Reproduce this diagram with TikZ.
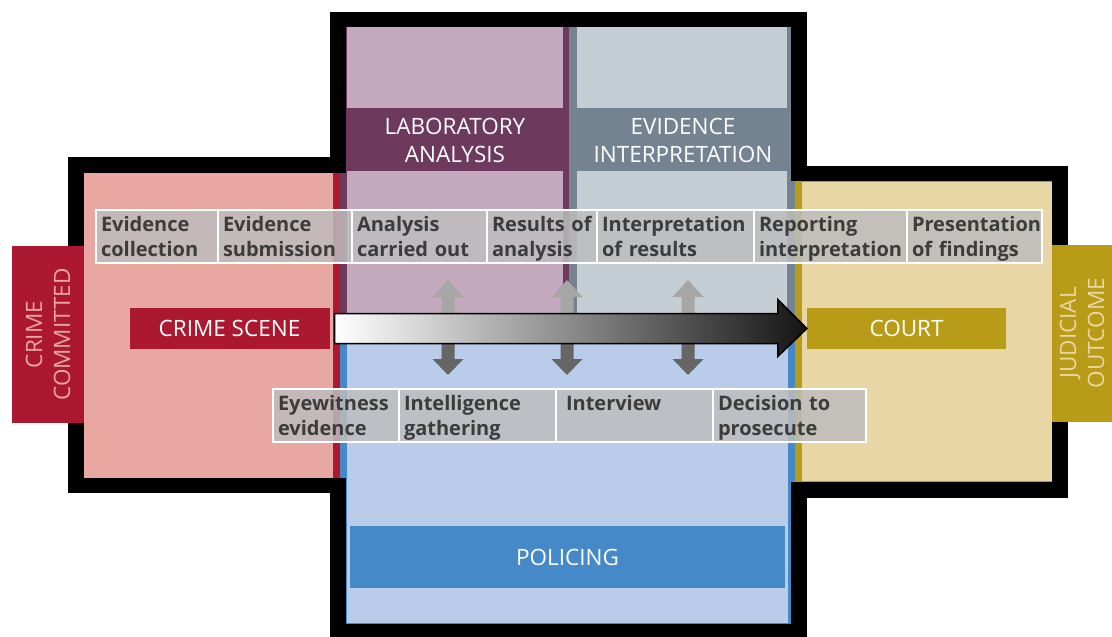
\documentclass[tikz,border=0pt]{standalone}
\usepackage{fontspec}
\setmainfont{Open Sans}
\usepackage{tikz}
\usetikzlibrary{positioning}
\usetikzlibrary{calc}

\definecolor{crimefill}{HTML}{E8A7A1}
\definecolor{crimered}{HTML}{AC1830}
\definecolor{labfill}{HTML}{C4A9BE}
\definecolor{labdark}{HTML}{6D3A5E}
\definecolor{interpfill}{HTML}{C5CDD5}
\definecolor{interpdark}{HTML}{748391}
\definecolor{policefill}{HTML}{B9CDEB}
\definecolor{policeblue}{HTML}{4589C9}
\definecolor{courtfill}{HTML}{E8D7A5}
\definecolor{courtgold}{HTML}{B89C18}
\definecolor{stagegrey}{HTML}{BDBDBD}
\definecolor{stagetext}{HTML}{3C3C3C}

\begin{document}
\begin{tikzpicture}[x=1pt, y=-1pt, line join=miter,
  stage/.style={draw=white, line width=1.5pt, fill=stagegrey, fill opacity=0.85, text opacity=1,
    text=stagetext, font=\fontsize{20}{25}\selectfont\bfseries, align=left, anchor=north west,
    inner xsep=5pt, inner ysep=1.5pt, minimum height=53pt, outer sep=0pt, text width=#1,
    execute at begin node=\rule{0pt}{19.5pt}, execute at end node=\rule[-5.5pt]{0pt}{0pt}},
  caps/.style={text=white, font=\fontsize{22.5}{28}\selectfont, align=center, inner sep=0pt},
  tab/.style={caps, rotate=90, minimum width=177pt, minimum height=72pt},
  flow/.style={draw=black, line width=1.5pt, left color=white, right color=black!92},
  linkup/.style={fill=black!35},
  linkdown/.style={fill=black!60}]

\useasboundingbox (0,0) rectangle (1112,637);

% crime scene area
\fill[crimefill] (76,165) rectangle (340,486);
\fill[crimered] (333,165) rectangle (340,486); % red edge

% laboratory column
\fill[labdark] (340,19) rectangle (569,330);
\fill[labfill] (347,27) rectangle (563,108);
\fill[labfill] (347,171) rectangle (563,330);

% interpretation column
\fill[interpdark] (569,19) rectangle (795,330);
\fill[interpfill] (577,27) rectangle (787,108);
\fill[interpfill] (577,171) rectangle (787,330);

% policing area
\fill[policeblue] (340,328) rectangle (795,640);
\fill[policefill] (347,328) rectangle (788,623);

% court area
\fill[courtgold] (795,173) rectangle (1060,490);
\fill[courtfill] (802,182) rectangle (1053,481);

% black outline (centre line of the frame)
\draw[black, line width=15.5pt] (76,165) -- (338,165) -- (338,19.5) -- (799,19.5) -- (799,173.5)
  -- (1060,173.5) -- (1060,490) -- (799,490) -- (799,632) -- (338,632) -- (338,485.5)
  -- (76,485.5) -- cycle;

% side tabs
\node[tab, fill=crimered, text=crimefill] (committed) at (48,334.5) {CRIME\\COMMITTED};
\node[tab, fill=courtgold, text=courtfill, minimum height=60pt] (outcome) at (1082,333) {JUDICIAL\\OUTCOME};

% column headings
\node[caps] (lab) at (455,140) {LABORATORY\\ANALYSIS};
\node[caps] (interp) at (683,140) {EVIDENCE\\INTERPRETATION};

% stage labels
\node[caps, fill=crimered, minimum width=200pt, minimum height=41pt] (scene) at (229.5,328.5) {CRIME SCENE};
\node[caps, fill=courtgold, minimum width=199pt, minimum height=41pt] (court) at (906.5,328.5) {COURT};
\node[caps, fill=policeblue, minimum width=435pt, minimum height=62pt] (police) at (567.5,557) {POLICING};

% two-way links between columns and policing
\foreach \x in {448,567,688} {
  \fill[linkup] ({\x-6.5},328) -- ({\x-6.5},297) -- ({\x-15.5},297) -- (\x,280)
    -- ({\x+15.5},297) -- ({\x+6.5},297) -- ({\x+6.5},328) -- cycle;
  \fill[linkdown] ({\x-6.5},328) -- ({\x-6.5},359) -- ({\x-15.5},359) -- (\x,375)
    -- ({\x+15.5},359) -- ({\x+6.5},359) -- ({\x+6.5},328) -- cycle;
}

% main flow arrow from crime scene to court
\coordinate (flowS) at ([xshift=5pt]scene.east);
\coordinate (flowE) at (court.west);
\draw[flow] ($(flowS)+(0,-15)$) -- ($(flowE)+(-29,-15)$) -- ($(flowE)+(-29,-29)$) -- (flowE)
  -- ($(flowE)+(-29,28)$) -- ($(flowE)+(-29,15)$) -- ($(flowS)+(0,15)$) -- cycle;

% upper row of stages
\node[stage=112pt] (collect) at (96,210) {Evidence\\collection};
\node[stage=124pt, right=0pt of collect] (submit) {Evidence\\submission};
\node[stage=125pt, right=0pt of submit] (analyse) {Analysis\\carried out};
\node[stage=100pt, right=0pt of analyse] (results) {Results of\\analysis};
\node[stage=147pt, right=0pt of results] (interpret) {Interpretation\\of results};
\node[stage=143pt, right=0pt of interpret] (report) {Reporting\\interpretation};
\node[stage=125pt, right=0pt of report] (present) {Presentation\\of findings};

% lower row of stages
\node[stage=116pt] (eyewit) at (273,389) {Eyewitness\\evidence};
\node[stage=147pt, right=0pt of eyewit] (intel) {Intelligence\\gathering};
\node[stage=147pt, right=0pt of intel] (interview) {\hspace*{5pt}Interview\\\mbox{}};
\node[stage=143pt, right=0pt of interview] (decide) {Decision to\\prosecute};

\end{tikzpicture}
\end{document}
